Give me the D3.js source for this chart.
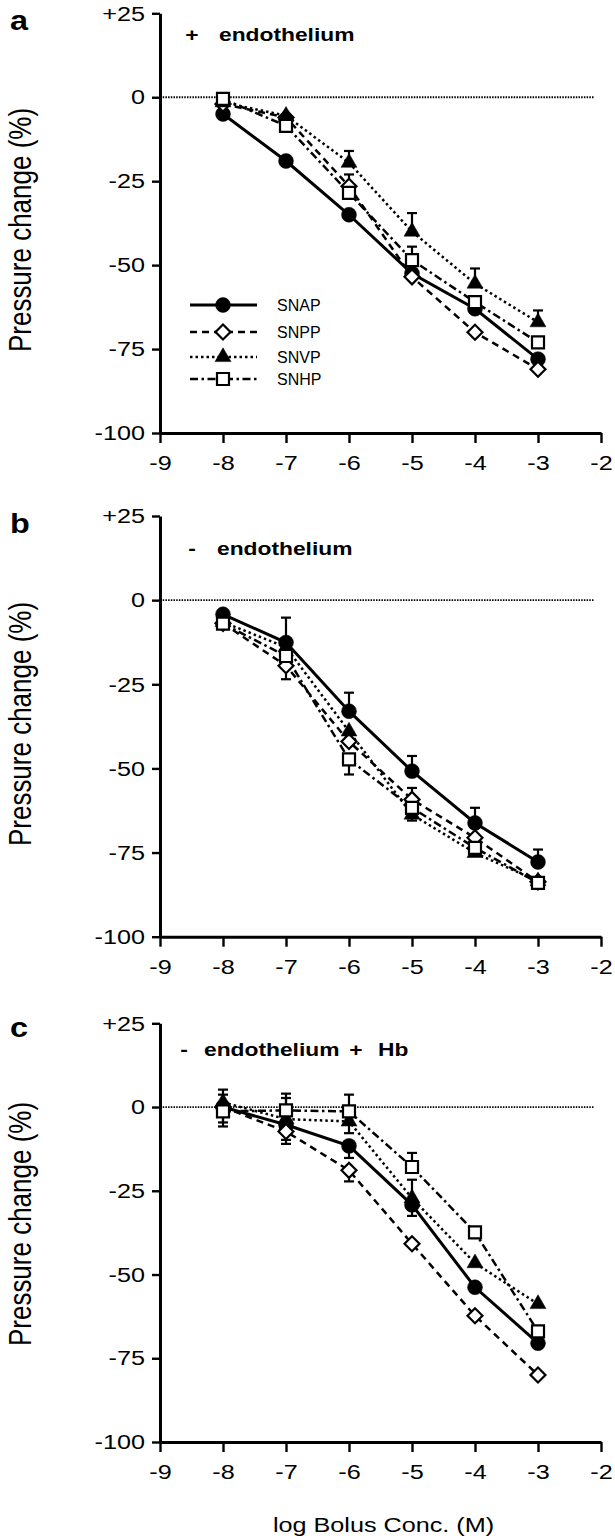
<!DOCTYPE html>
<html>
<head>
<meta charset="utf-8">
<script src="https://cdnjs.cloudflare.com/ajax/libs/d3/7.8.5/d3.min.js"></script>
<style>
body { margin: 0; background: #fff; }
text { font-family: "Liberation Sans", Arial, Helvetica, sans-serif; fill: #000; }
</style>
</head>
<body>
<div id="chart-area"></div>
<script>
// log bolus concentrations (M) and series
var conc = [-8, -7, -6, -5, -4, -3];
var seriesNames = ["SNAP", "SNPP", "SNVP", "SNHP"];

// axis ticks
var xTicks = [-9, -8, -7, -6, -5, -4, -3, -2];
var xTickLabels = ["-9", "-8", "-7", "-6", "-5", "-4", "-3", "-2"];
var yTicks = [25, 0, -25, -50, -75, -100];
var yTickLabels = ["+25", "0", "-25", "-50", "-75", "-100"];

// panel a: + endothelium (rows follow seriesNames)
var valuesA = [
    [-5, -19, -35, -52.5, -63, -78],
    [-2, -6, -26.5, -53.5, -70, -81],
    [-1.5, -5.5, -19.5, -40, -55.5, -67],
    [-0.5, -8.5, -28.5, -48.5, -61, -73]
];
// signed SEM bars: + drawn upward, - drawn downward
var errorsA = [
    [0, 0, 0, 0, 0, 0],
    [0, 0, 3.5, 0, 0, 0],
    [0, 0, 3.5, 5.5, 4.5, 3.5],
    [0, 0, 0, 4, 0, 0]
];

// panel b: - endothelium
var valuesB = [
    [-4.2, -12.6, -33, -50.8, -66.2, -77.8],
    [-6.9, -19.5, -42, -59.2, -70.6, -83.7],
    [-6.5, -14, -39, -63.7, -75.1, -83.5],
    [-7, -16.6, -47.3, -61.7, -73.6, -84]
];
var errorsB = [
    [0, 7.4, 5.5, 4.5, 4.5, 3.7],
    [0, -4, 0, 3.4, 0, 0],
    [0, 0, 0, -1.8, 0, 0],
    [0, 0, -4.5, 0, 0, 0]
];

// panel c: - endothelium + Hb
var valuesC = [
    [0, -5.3, -11.6, -29.2, -53.8, -70.5],
    [0, -7.3, -18.9, -40.8, -62.3, -80],
    [1.4, -3.6, -4.3, -27.2, -46.6, -58.8],
    [-1.3, -1, -1.3, -17.9, -37.4, -67]
];
var errorsC = [
    [-5.8, -4.5, -3.6, -3.3, 0, 0],
    [3.7, -3.7, -3.3, 0, 0, 0],
    [3.8, 6.3, -3.5, 5.5, 0, 0],
    [-3.3, 5, 5, 4.2, 0, 0]
];

var panelLetters = ["a", "b", "c"];
var notesA = ["+", "endothelium"];
var notesB = ["-", "endothelium"];
var notesC = ["-", "endothelium", "+", "Hb"];

var sx = 1.2; // the scanned figure is stretched sideways

var svg = d3.select("#chart-area")
    .append("svg")
        .attr("width", 615)
        .attr("height", 1539);

var dashes = ["none", "7,5", "2.5,3", "8,3.5,2.5,3.5"];
var symbols = [
    d3.symbol().type(d3.symbolCircle).size(175),
    d3.symbol().type(d3.symbolSquare).size(112),
    d3.symbol().type(d3.symbolTriangle).size(110),
    d3.symbol().type(d3.symbolSquare).size(144)
];
var fills = ["#000", "#fff", "#000", "#fff"];
var rotations = [0, 45, 0, 0];

function sText(parent, x, y, str, size, anchor) {
    return parent.append("text")
        .attr("transform", "translate(" + x + "," + y + ") scale(" + sx + ",1)")
        .attr("text-anchor", anchor || "start")
        .style("font-size", size + "px")
        .text(str);
}

function marker(parent, i, cx, cy) {
    parent.append("path")
        .attr("d", symbols[i]())
        .attr("transform", "translate(" + cx + "," + cy + ") rotate(" + rotations[i] + ")")
        .attr("fill", fills[i])
        .attr("stroke", "#000")
        .attr("stroke-width", fills[i] == "#fff" ? 2.2 : 0.5);
}

function drawPanel(cfg) {
    var g = svg.append("g");

    var x = d3.scaleLinear().domain([-9, -2]).range([160, 601]);
    var y = d3.scaleLinear().domain([-100, 25]).range([cfg.bottom, cfg.top]);

    // zero line
    g.append("line")
        .attr("x1", x(-9)).attr("x2", x(-2.1))
        .attr("y1", y(0)).attr("y2", y(0))
        .attr("stroke", "#000")
        .attr("stroke-width", 1.8)
        .attr("stroke-dasharray", "1.5,1.2");

    // axes
    var yAxisCall = d3.axisLeft(y)
        .tickValues(yTicks)
        .tickSize(8)
        .tickSizeOuter(0)
        .tickFormat(function(d, i){ return yTickLabels[i]; });
    var yAxisGroup = g.append("g")
        .attr("transform", "translate(" + x(-9) + ",0)")
        .call(yAxisCall);

    var xAxisCall = d3.axisBottom(x)
        .tickValues(xTicks)
        .tickSize(10)
        .tickSizeOuter(0)
        .tickFormat(function(d, i){ return xTickLabels[i]; });
    var xAxisGroup = g.append("g")
        .attr("transform", "translate(0," + y(-100) + ")")
        .call(xAxisCall);

    [yAxisGroup, xAxisGroup].forEach(function(ax){
        ax.attr("font-size", null).attr("font-family", null);
        ax.select(".domain").attr("stroke-width", 3);
        ax.selectAll(".tick line").attr("stroke-width", 2.4);
        ax.selectAll("text")
            .style("font-size", "21px")
            .style("font-family", "'Liberation Sans', Arial, sans-serif");
    });
    yAxisGroup.selectAll("text")
        .attr("x", 0)
        .attr("transform", "translate(-15,0) scale(" + sx + ",1)");
    xAxisGroup.selectAll("text")
        .attr("y", 22)
        .attr("transform", "scale(" + sx + ",1)");

    // error bars
    cfg.values.forEach(function(vals, s){
        vals.forEach(function(v, j){
            var e = cfg.errors[s][j];
            if (!e) return;
            var cx = x(conc[j]);
            g.append("line")
                .attr("x1", cx).attr("x2", cx)
                .attr("y1", y(v)).attr("y2", y(v + e))
                .attr("stroke", "#000").attr("stroke-width", 2.2);
            g.append("line")
                .attr("x1", cx - 5).attr("x2", cx + 5)
                .attr("y1", y(v + e)).attr("y2", y(v + e))
                .attr("stroke", "#000").attr("stroke-width", 2.2);
        });
    });

    // series lines
    var line = d3.line()
        .x(function(d, j){ return x(conc[j]); })
        .y(function(d){ return y(d); });
    cfg.values.forEach(function(vals, s){
        g.append("path")
            .attr("d", line(vals))
            .attr("fill", "none")
            .attr("stroke", "#000")
            .attr("stroke-width", s == 0 ? 3 : 2.5)
            .attr("stroke-dasharray", dashes[s]);
    });

    // markers
    cfg.values.forEach(function(vals, s){
        vals.forEach(function(v, j){
            marker(g, s, x(conc[j]), y(v));
        });
    });

    // panel letter
    sText(g, 10, cfg.letterY, cfg.letter, 27)
        .attr("font-weight", "bold");

    // condition note
    cfg.notes.forEach(function(t, k){
        var anchor = (t == "+" || t == "-") ? "middle" : "start";
        sText(g, cfg.noteX[k], cfg.noteY, t, 19, anchor)
            .attr("font-weight", "bold");
    });

    // y label
    g.append("text")
        .attr("transform", "translate(31," + cfg.titleY + ") scale(" + sx + ",1) rotate(-90)")
        .attr("text-anchor", "middle")
        .style("font-size", "26px")
        .text("Pressure change (%)");

    // legend
    if (cfg.legend) {
        var rows = [305, 332, 357, 379];
        seriesNames.forEach(function(name, s){
            g.append("line")
                .attr("x1", 190).attr("x2", 257)
                .attr("y1", rows[s]).attr("y2", rows[s])
                .attr("stroke", "#000")
                .attr("stroke-width", s == 0 ? 3 : 2.5)
                .attr("stroke-dasharray", dashes[s]);
            marker(g, s, 223, rows[s]);
            g.append("text")
                .attr("x", 277)
                .attr("y", rows[s] + 6)
                .style("font-size", "16px")
                .style("font-family", "'Liberation Sans Narrow', 'Arial Narrow', sans-serif")
                .text(name);
        });
    }
}

drawPanel({ top: 13.3, bottom: 433, values: valuesA, errors: errorsA,
    letter: panelLetters[0], letterY: 30, notes: notesA, noteX: [192, 219], noteY: 41,
    titleY: 230, legend: true });
drawPanel({ top: 516, bottom: 936.7, values: valuesB, errors: errorsB,
    letter: panelLetters[1], letterY: 533, notes: notesB, noteX: [192, 217], noteY: 555,
    titleY: 724, legend: false });
drawPanel({ top: 1023.3, bottom: 1442, values: valuesC, errors: errorsC,
    letter: panelLetters[2], letterY: 1037, notes: notesC, noteX: [184, 204, 356, 378], noteY: 1056,
    titleY: 1224, legend: false });

// x axis title
sText(svg, 383.5, 1532, "log Bolus Conc. (M)", 21, "middle");
</script>
</body>
</html>
